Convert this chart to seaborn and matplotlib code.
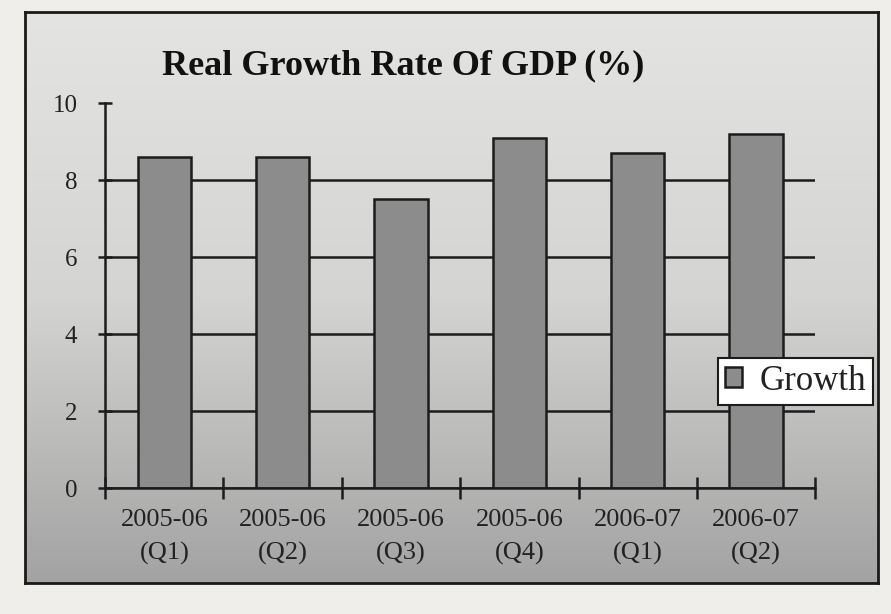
import numpy as np
import matplotlib
matplotlib.use("Agg")
import matplotlib.pyplot as plt
from matplotlib.colors import LinearSegmentedColormap
import seaborn as sns

categories = ["2005-06\n(Q1)", "2005-06\n(Q2)", "2005-06\n(Q3)",
              "2005-06\n(Q4)", "2006-07\n(Q1)", "2006-07\n(Q2)"]
growth = [8.6, 8.6, 7.5, 9.1, 8.7, 9.2]
yticks = [0, 2, 4, 6, 8, 10]
series_name = "Growth"
title = "Real Growth Rate Of GDP (%)"

sns.set_theme(style="white")
plt.rcParams["font.family"] = ["Liberation Serif", "DejaVu Serif"]

fig = plt.figure(figsize=(8.91, 6.14), dpi=100)
fig.patch.set_facecolor("#efeeeb")

# framed, shaded chart panel
bg = fig.add_axes([0.028, 0.05, 0.957, 0.93], zorder=0)
grad = np.linspace(0, 1, 256).reshape(-1, 1)
cmap = LinearSegmentedColormap.from_list("g", ["#e4e4e2", "#d4d4d2", "#a3a3a3"])
bg.imshow(grad, aspect="auto", cmap=cmap, extent=[0, 1, 0, 1])
bg.set_xticks([]); bg.set_yticks([])
for s in bg.spines.values():
    s.set_color("#1a1a1a"); s.set_linewidth(2)

ax = fig.add_axes([0.118, 0.205, 0.797, 0.627], zorder=1)
ax.set_facecolor("none")
sns.barplot(x=categories, y=growth, color="#8c8c8c", edgecolor="#1c1c1c",
            linewidth=1.8, width=0.45, saturation=1, ax=ax, label=series_name)

ax.set_ylim(0, 10)
ax.set_xlim(-0.5, len(categories) - 0.5)
ax.set_yticks(yticks)
ax.yaxis.grid(True, color="#1c1c1c", linewidth=1.8)
ax.get_ygridlines()[-1].set_visible(False)
ax.set_axisbelow(True)
for side in ["top", "right"]:
    ax.spines[side].set_visible(False)
for side in ["left", "bottom"]:
    ax.spines[side].set_color("#1c1c1c")
    ax.spines[side].set_linewidth(1.8)

ax.tick_params(axis="y", direction="inout", length=10, width=1.8,
               color="#1c1c1c", labelsize=18, pad=15, left=True,
               labelcolor="#222222")
ax.tick_params(axis="x", which="major", length=0, labelsize=19, pad=15,
               labelcolor="#222222")
ax.set_xticks(np.arange(-0.5, len(categories), 1.0), minor=True)
ax.tick_params(axis="x", which="minor", direction="inout", length=16,
               width=1.8, color="#1c1c1c", bottom=True)
for lab in ax.get_xticklabels():
    lab.set_linespacing(1.6)
ax.set_xlabel(""); ax.set_ylabel("")

fig.text(0.452, 0.893, title, ha="center", va="center", fontsize=26,
         fontweight="bold", color="#111111")

leg = ax.legend(loc="center left", bbox_to_anchor=(0.863, 0.278), frameon=True,
                fancybox=False, framealpha=1, facecolor="white",
                edgecolor="#1c1c1c", fontsize=25, handlelength=0.5,
                handleheight=0.5, handletextpad=0.5, borderpad=0.2,
                borderaxespad=0)
leg.get_frame().set_linewidth(1.5)
for t in leg.get_texts():
    t.set_color("#222222")

fig.savefig("out.png", dpi=100, facecolor=fig.get_facecolor())
